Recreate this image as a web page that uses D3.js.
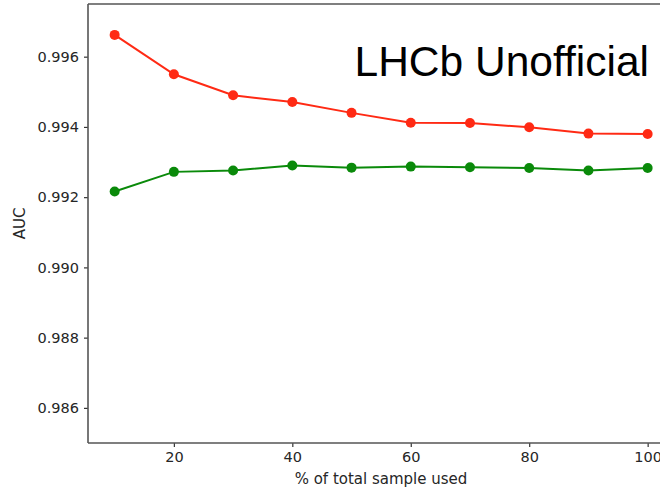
<!DOCTYPE html>
<html>
<head>
<meta charset="utf-8">
<script src="https://cdn.jsdelivr.net/npm/d3@7"></script>
<style>
  html, body { margin: 0; padding: 0; background: #fff; }
  svg { display: block; }
  .tick text { font-family: "DejaVu Sans", sans-serif; font-size: 14.5px; fill: #262626; }
</style>
</head>
<body>
<svg id="chart" width="660" height="490"></svg>
<script>
// Fraction of the total sample used for training (%)
const samplePct = [10, 20, 30, 40, 50, 60, 70, 80, 90, 100];
// AUC for the two configurations
const aucRed   = [0.99662, 0.99550, 0.99490, 0.99471, 0.99440, 0.99412, 0.99411, 0.99399, 0.99381, 0.99380];
const aucGreen = [0.99216, 0.99272, 0.99276, 0.99290, 0.99284, 0.99287, 0.99285, 0.99283, 0.99276, 0.99283];
const xTicks = [20, 40, 60, 80, 100];
const yTicks = [0.986, 0.988, 0.990, 0.992, 0.994, 0.996];

const svg = d3.select("#chart");
const plotLeft = 88, plotTop = 4, plotBottom = 443, plotRight = 674.3;

const x = d3.scaleLinear().domain([5.5, 104.5]).range([plotLeft, plotRight]);
const y = d3.scaleLinear().domain([0.985, 0.9975]).range([plotBottom, plotTop]);

// Axes
const xAxis = svg.append("g")
  .attr("transform", `translate(0,${plotBottom})`)
  .call(d3.axisBottom(x).tickValues(xTicks).tickSize(4).tickPadding(5).tickFormat(d3.format("d")));
const yAxis = svg.append("g")
  .attr("transform", `translate(${plotLeft},0)`)
  .call(d3.axisLeft(y).tickValues(yTicks).tickSize(4).tickPadding(5).tickFormat(d3.format(".3f")));
[xAxis, yAxis].forEach(g => {
  g.select(".domain").remove();
  g.selectAll(".tick line").attr("stroke", "#333").attr("stroke-width", 1.2);
});

// Frame (left, top, bottom spines)
const spine = "#555";
svg.append("line").attr("x1", plotLeft).attr("x2", plotLeft).attr("y1", plotTop).attr("y2", plotBottom)
  .attr("stroke", spine).attr("stroke-width", 1.6);
svg.append("line").attr("x1", plotLeft).attr("x2", plotRight).attr("y1", plotTop).attr("y2", plotTop)
  .attr("stroke", spine).attr("stroke-width", 1.6);
svg.append("line").attr("x1", plotLeft).attr("x2", plotRight).attr("y1", plotBottom).attr("y2", plotBottom)
  .attr("stroke", spine).attr("stroke-width", 1.6);

// Series
const line = d3.line().x(d => x(d[0])).y(d => y(d[1]));
const series = [
  { values: aucRed, color: "#ff2a14" },
  { values: aucGreen, color: "#0a8a0a" }
];
series.forEach(s => {
  const pts = samplePct.map((p, i) => [p, s.values[i]]);
  svg.append("path").datum(pts)
    .attr("d", line).attr("fill", "none")
    .attr("stroke", s.color).attr("stroke-width", 2);
  svg.append("g").selectAll("circle").data(pts).join("circle")
    .attr("cx", d => x(d[0])).attr("cy", d => y(d[1])).attr("r", 5)
    .attr("fill", s.color);
});

// Axis titles
svg.append("text")
  .attr("x", (294 + 468) / 2).attr("y", 484)
  .attr("text-anchor", "middle")
  .style("font-family", "DejaVu Sans, sans-serif").style("font-size", "15px").style("fill", "#262626")
  .text("% of total sample used");
svg.append("text")
  .attr("transform", `translate(25,${(plotTop + plotBottom) / 2}) rotate(-90)`)
  .attr("text-anchor", "middle")
  .style("font-family", "DejaVu Sans, sans-serif").style("font-size", "15px").style("fill", "#262626")
  .text("AUC");

// Watermark label
svg.append("text")
  .attr("x", 649).attr("y", 76)
  .attr("text-anchor", "end")
  .style("font-family", "Liberation Sans, Arial, sans-serif").style("font-size", "42.5px").style("fill", "#000")
  .text("LHCb Unofficial");
</script>
</body>
</html>
